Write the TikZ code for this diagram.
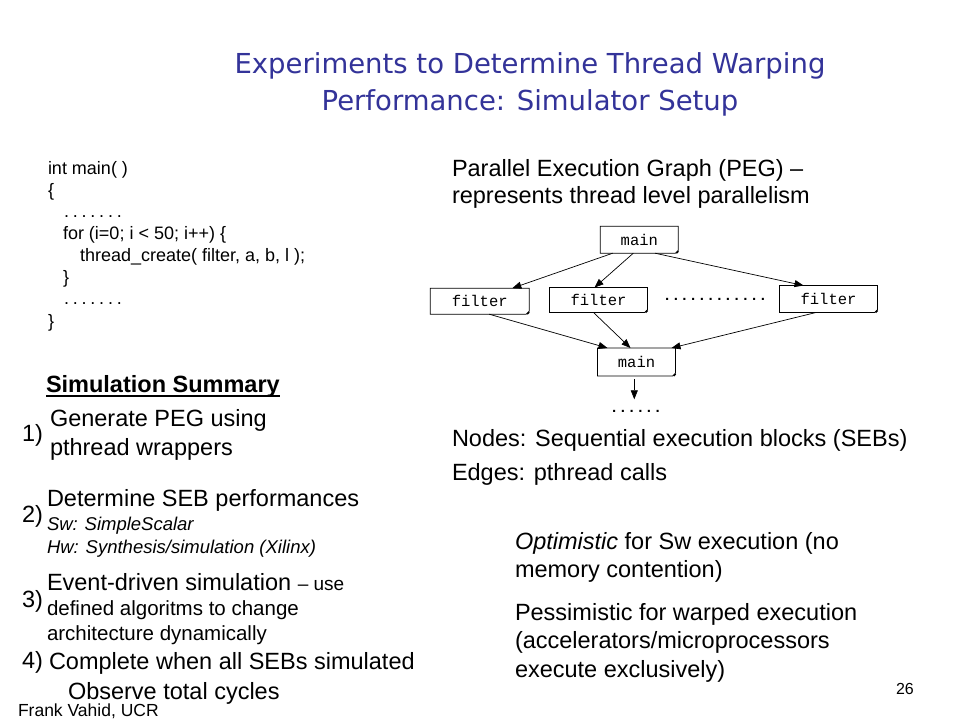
\documentclass[tikz,border=0pt]{standalone}
\usepackage{fontspec}
\setmainfont{Liberation Sans}
\newfontfamily\titlefont{DejaVu Sans}
\newfontfamily\codefont{Liberation Mono}
\usetikzlibrary{arrows.meta}
\definecolor{titleblue}{RGB}{51,51,153}
\tikzset{
  txt/.style={anchor=base west, inner sep=0pt, outer sep=0pt, align=left},
  body/.style={txt, font=\fontsize{23.5}{28}\selectfont},
  small/.style={txt, font=\fontsize{20.5}{24}\selectfont},
  code/.style={txt, font=\fontsize{18}{22}\selectfont},
  titletxt/.style={txt, anchor=base, text=titleblue, font=\titlefont\fontsize{27.5}{37}\selectfont},
  pegnode/.style={inner sep=0pt, outer sep=0pt, font=\codefont\fontsize{15.5}{17}\selectfont},
  arr/.style={-{Triangle[length=9pt,width=7pt]}, line width=0.7pt},
  boxline/.style={line width=0.7pt}
}
\newcommand{\pegbox}[1]{%
  \draw[boxline] (#1.north west) -- (#1.north east) -- ([yshift=3pt]#1.south east)
    -- ([xshift=-3pt]#1.south east) -- (#1.south west) -- cycle;
  \draw[line width=1.4pt] ([yshift=2pt]#1.south east) -- ([xshift=-2pt]#1.south east);}
\newcommand{\codedots}{.\hspace{3.8pt}.\hspace{3.8pt}.\hspace{3.8pt}.\hspace{3.8pt}.\hspace{3.8pt}.\hspace{3.8pt}.}
\begin{document}
\begin{tikzpicture}[x=1pt,y=-1pt]
\useasboundingbox[fill=white] (0,0) rectangle (960,720);

% title
\node[titletxt] (title1) at (530,73) {Experiments to Determine Thread Warping};
\node[titletxt] (title2) at (530,110) {Performance: Simulator Setup};

% code
\node[code] (c1) at (48,174) {int main( )};
\node[code] (c2) at (48,196) {\{};
\node[code] (c3) at (64,217) {\codedots};
\node[code] (c4) at (63,239) {for (i=0; i < 50; i++) \{};
\node[code] (c5) at (80,261) {thread\_create( filter, a, b, l );};
\node[code] (c6) at (63,283) {\}};
\node[code] (c7) at (64,304) {\codedots};
\node[code] (c8) at (48,327) {\}};

% right header
\node[body] (peg1) at (452,176) {Parallel Execution Graph (PEG) --};
\node[body] (peg2) at (452,203) {represents thread level parallelism};

% PEG graph
\node[pegnode, minimum width=78pt, minimum height=27pt] (mt) at (639.3,239.7) {main};
\node[pegnode, minimum width=99pt, minimum height=26pt] (f1) at (479.7,301.2) {filter};
\node[pegnode, minimum width=98pt, minimum height=25pt] (f2) at (598.5,300) {filter};
\node[pegnode, minimum width=98pt, minimum height=27pt] (f3) at (828.5,299) {filter};
\node[pegnode, minimum width=78pt, minimum height=28pt] (mb) at (636.5,362) {main};
\node[pegnode, anchor=base, font=\codefont\bfseries\fontsize{14.5}{16}\selectfont] (dots1) at (715,300) {............};
\node[pegnode, anchor=base, font=\codefont\bfseries\fontsize{14.5}{16}\selectfont] (dots2) at (636,412) {......};
\coordinate (down) at (634.3,399.3);

\pegbox{mt}
\pegbox{f1}
\pegbox{f2}
\pegbox{f3}
\pegbox{mb}

\draw[arr] ([xshift=-26.6pt]mt.south) -- ([xshift=32.6pt]f1.north);
\draw[arr] ([xshift=-6pt]mt.south) -- ([xshift=-4pt]f2.north);
\draw[arr] ([xshift=15.7pt]mt.south) -- ([xshift=-25pt]f3.north);
\draw[arr] ([xshift=9.5pt]f1.south) -- ([xshift=-29pt]mb.north);
\draw[arr] ([xshift=-5pt]f2.south) -- ([xshift=-6pt]mb.north);
\draw[arr] ([xshift=-12.5pt]f3.south) -- ([xshift=35pt]mb.north);
\draw[arr] ([xshift=-2.2pt,yshift=-3pt]mb.south) -- (down);

% nodes / edges text
\node[body] (nodes) at (452,446) {Nodes: Sequential execution blocks (SEBs)};
\node[body] (edges) at (452,480) {Edges: pthread calls};

% optimistic / pessimistic
\node[body] (opt1) at (515,549) {\textit{Optimistic} for Sw execution (no};
\node[body] (opt2) at (515,577) {memory contention)};
\node[body] (pes1) at (515,620) {Pessimistic for warped execution};
\node[body] (pes2) at (515,648) {(accelerators/microprocessors};
\node[body] (pes3) at (515,677) {execute exclusively)};

% simulation summary
\node[txt, font=\bfseries\fontsize{23.5}{26}\selectfont] (sumhead) at (46,392) {Simulation Summary};
\draw[line width=1.4pt] ([yshift=-4pt]sumhead.base west) -- ([yshift=-4pt]sumhead.base east);

\node[body] (n1) at (22,441) {1)};
\node[body] (s1a) at (50,426) {Generate PEG using};
\node[body] (s1b) at (50,455) {pthread wrappers};

\node[body] (n2) at (22,522) {2)};
\node[body] (s2a) at (47,506) {Determine SEB performances};
\node[txt, font=\itshape\fontsize{18.5}{20}\selectfont] (s2b) at (47,530) {Sw: SimpleScalar};
\node[txt, font=\itshape\fontsize{18.5}{20}\selectfont] (s2c) at (47,553) {Hw: Synthesis/simulation (Xilinx)};

\node[body] (n3) at (22,607) {3)};
\node[body] (s3a) at (47,590) {Event-driven simulation {\fontsize{19}{20}\selectfont -- use}};
\node[small] (s3b) at (47,615) {defined algoritms to change};
\node[small] (s3c) at (47,640) {architecture dynamically};

\node[body] (n4) at (22,668) {4)};
\node[body] (s4a) at (49,669) {Complete when all SEBs simulated};
\node[body] (s4b) at (68,699) {Observe total cycles};

\node[txt, font=\fontsize{17.5}{20}\selectfont] (author) at (18,716) {Frank Vahid, UCR};
\node[txt, font=\fontsize{16}{20}\selectfont] (page) at (896,694) {26};
\end{tikzpicture}
\end{document}
